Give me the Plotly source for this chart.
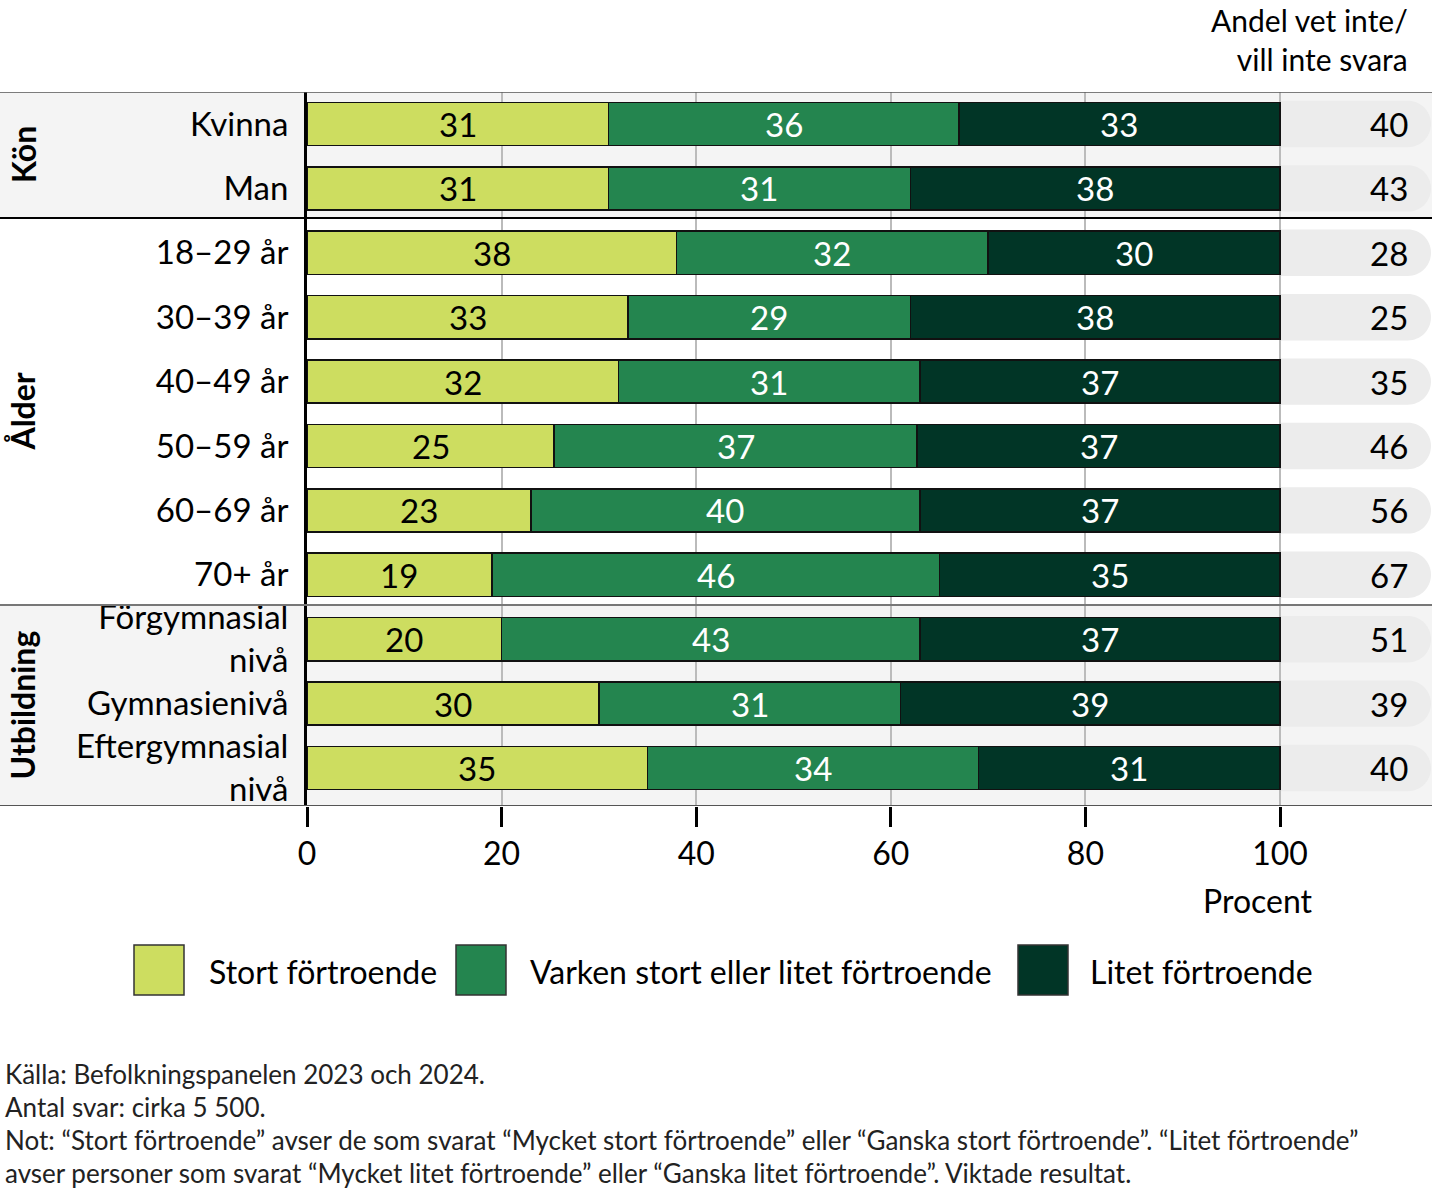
import plotly.graph_objects as go

W, H = 1432, 1191
FONT = "Lato"

categories = ["Kvinna", "Man", "18–29 år", "30–39 år", "40–49 år", "50–59 år",
              "60–69 år", "70+ år", "Förgymnasial<br>nivå", "Gymnasienivå",
              "Eftergymnasial<br>nivå"]
groups = [("Kön", 0, 1), ("Ålder", 2, 7), ("Utbildning", 8, 10)]

series_names = ["Stort förtroende", "Varken stort eller litet förtroende", "Litet förtroende"]
stort = [31, 31, 38, 33, 32, 25.4, 23, 19, 20, 30, 35]
varken = [36, 31, 32, 29, 31, 37.3, 40, 46, 43, 31, 34]
litet = [33, 38, 30, 38, 37, 37.3, 37, 35, 37, 39, 31]
vet_inte = [40, 43, 28, 25, 35, 46, 56, 67, 51, 39, 40]

colors = ["#cddd60", "#24854f", "#013526"]
label_colors = ["#000000", "#ffffff", "#ffffff"]
tick_vals = [0, 20, 40, 60, 80, 100]
header_text = "Andel vet inte/<br>vill inte svara"
footnote_lines = [
    "Källa: Befolkningspanelen 2023 och 2024.",
    "Antal svar: cirka 5 500.",
    "Not: “Stort förtroende” avser de som svarat “Mycket stort förtroende” eller “Ganska stort förtroende”. “Litet förtroende”",
    "avser personer som svarat “Mycket litet förtroende” eller “Ganska litet förtroende”. Viktade resultat.",
]

pos = list(range(len(categories)))


def px(x):
    return x / W


def py(y):
    return 1 - y / H


X_LEFT, X_100 = 307, 1280
unit = (X_100 - X_LEFT) / 100
x_max = (W - X_LEFT) / unit
ROW = 64.4
Y_TOP, Y_BOT, Y_FIRST = 92, 806, 124
y_lo = (Y_TOP - Y_FIRST) / ROW
y_hi = (Y_BOT - Y_FIRST) / ROW

fig = go.Figure()
all_series = [stort, varken, litet]
for name, vals, col in zip(series_names, all_series, colors):
    fig.add_trace(go.Bar(
        y=pos, x=vals, name=name, orientation="h", width=0.67,
        marker=dict(color=col, line=dict(color="#111111", width=1.5)),
        showlegend=False, hoverinfo="skip",
    ))

annotations = []
for i in pos:
    start = 0
    for s, vals in enumerate(all_series):
        v = vals[i]
        annotations.append(dict(
            x=start + v / 2, y=i, xref="x", yref="y", text=str(round(v)),
            showarrow=False, font=dict(family=FONT, size=33, color=label_colors[s]),
        ))
        start += v
    annotations.append(dict(
        x=px(1410), y=i, xref="paper", yref="y", text=str(vet_inte[i]),
        xanchor="right", showarrow=False, font=dict(family=FONT, size=33, color="#000"),
    ))

shapes = []
bounds = {"Kön": (y_lo, 1.46), "Ålder": (1.46, 7.47), "Utbildning": (7.47, y_hi)}
band_fill = {"Kön": "#f4f4f4", "Ålder": "rgba(0,0,0,0)", "Utbildning": "#f4f4f4"}
for gname, a, b in groups:
    y0, y1 = bounds[gname]
    shapes.append(dict(type="rect", xref="paper", yref="y", x0=0, x1=1, y0=y0, y1=y1,
                       fillcolor=band_fill[gname], line=dict(width=0), layer="below"))
    annotations.append(dict(
        x=px(23), y=(y0 + y1) / 2, xref="paper", yref="y", text=f"<b>{gname}</b>",
        textangle=-90, xanchor="center", yanchor="middle", showarrow=False,
        font=dict(family=FONT, size=32, color="#000"),
    ))

xe = (1431 - X_LEFT) / unit
hh = 0.36
rx = hh * ROW / unit
k = 0.5523
for i in pos:
    y0, y1 = i - hh, i + hh
    path = (f"M 100 {y0} L {xe - rx} {y0} "
            f"C {xe - rx + k * rx} {y0} {xe} {i - k * hh} {xe} {i} "
            f"C {xe} {i + k * hh} {xe - rx + k * rx} {y1} {xe - rx} {y1} "
            f"L 100 {y1} Z")
    shapes.append(dict(type="path", xref="x", yref="y", path=path,
                       fillcolor="#ececec", line=dict(width=0), layer="below"))

for yv, col, wd in [(y_lo, "#555555", 1.5), (1.46, "#000000", 2), (7.47, "#777777", 2), (y_hi, "#555555", 2)]:
    shapes.append(dict(type="line", xref="paper", yref="y", x0=0, x1=1, y0=yv, y1=yv,
                       line=dict(color=col, width=wd), layer="above"))

leg_sq = [134, 456, 1018]
leg_tx = [207, 528, 1088]
for name, col, sx, tx in zip(series_names, colors, leg_sq, leg_tx):
    shapes.append(dict(type="rect", xref="paper", yref="paper",
                       x0=px(sx), x1=px(sx + 50), y0=py(995), y1=py(945),
                       fillcolor=col, line=dict(color="#333333", width=1.5)))
    annotations.append(dict(x=px(tx), y=py(971), xref="paper", yref="paper", text=name,
                            xanchor="left", yanchor="middle", showarrow=False,
                            font=dict(family=FONT, size=32, color="#000")))

annotations.append(dict(x=px(1410), y=py(40), xref="paper", yref="paper",
                        text=header_text, align="right", xanchor="right", yanchor="middle",
                        showarrow=False, font=dict(family=FONT, size=30, color="#000")))
annotations.append(dict(x=px(1315), y=py(900), xref="paper", yref="paper", text="Procent",
                        xanchor="right", yanchor="middle", showarrow=False,
                        font=dict(family=FONT, size=32, color="#000")))
for line, yc in zip(footnote_lines, [1074, 1107, 1140, 1173]):
    annotations.append(dict(x=px(3), y=py(yc), xref="paper", yref="paper", xanchor="left",
                            yanchor="middle", text=line, showarrow=False,
                            font=dict(family=FONT, size=26, color="#222")))

fig.update_layout(
    width=W, height=H, margin=dict(l=0, r=0, t=0, b=0),
    paper_bgcolor="white", plot_bgcolor="rgba(0,0,0,0)",
    barmode="stack", bargap=0.33,
    shapes=shapes, annotations=annotations,
    font=dict(family=FONT, color="#000"),
    xaxis=dict(domain=[px(X_LEFT), 1], range=[0, x_max], tickvals=tick_vals,
               ticktext=[str(t) for t in tick_vals],
               showgrid=True, gridcolor="#bbbbbb", gridwidth=1.5, zeroline=False,
               ticks="outside", ticklen=20, tickwidth=2.5, tickcolor="#000",
               tickfont=dict(family=FONT, size=32, color="#000"), automargin=False,
               showline=False, fixedrange=True),
    yaxis=dict(domain=[py(Y_BOT), py(Y_TOP)], range=[y_hi, y_lo], tickvals=pos,
               ticktext=categories, showgrid=False, zeroline=False,
               showline=True, linecolor="#000", linewidth=3, ticks="",
               ticklabelstandoff=9,
               tickfont=dict(family=FONT, size=33, color="#000"), automargin=False,
               fixedrange=True),
)

fig.write_html("out.html", config={"displayModeBar": False},
               post_script="document.body.style.margin='0';document.body.style.overflow='hidden';")
